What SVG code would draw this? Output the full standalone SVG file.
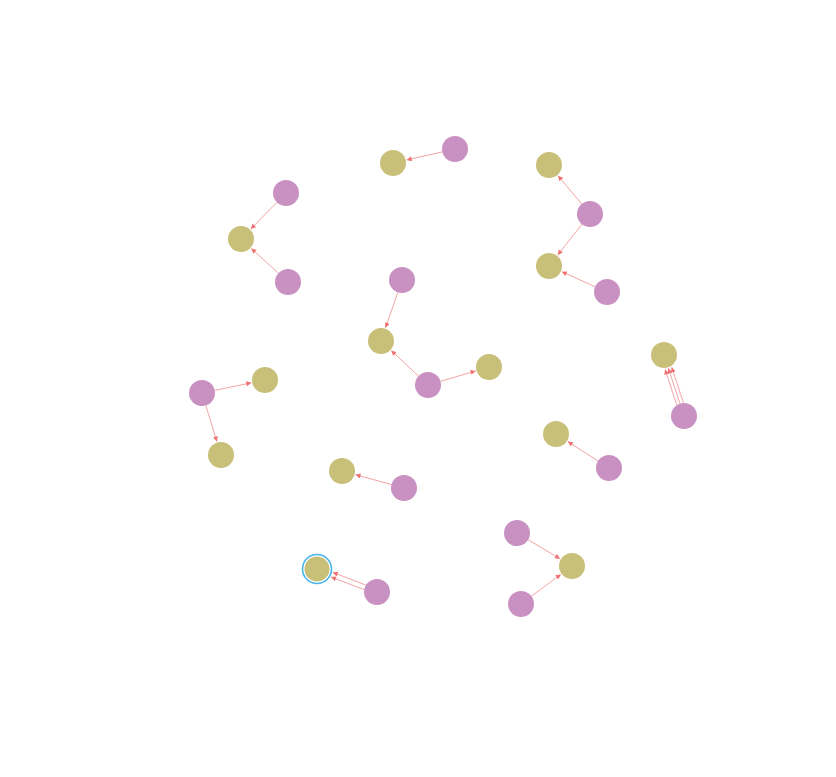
<svg xmlns="http://www.w3.org/2000/svg" width="836" height="777" viewBox="0 0 836 777">
<style>
.p{fill:#C990C2}
.o{fill:#C8BF78}
.e{stroke:#F5A3A3;stroke-width:1;fill:none}
.ring{fill:none;stroke:#46B4EA;stroke-width:1.6}
</style>
<defs>
<marker id="a" viewBox="0 0 10 10" refX="10" refY="5" markerWidth="6" markerHeight="5" markerUnits="userSpaceOnUse" orient="auto">
<path d="M0,0 L10,5 L0,10 z" fill="#F07070"/>
</marker>
</defs>
<rect width="836" height="777" fill="#fff"/>
<g id="edges">
<line class="e" marker-end="url(#a)" x1="442.3" y1="151.9" x2="406.7" y2="159.9"/>
<line class="e" marker-end="url(#a)" x1="276.9" y1="202.3" x2="250.8" y2="229.0"/>
<line class="e" marker-end="url(#a)" x1="278.4" y1="273.2" x2="251.3" y2="248.5"/>
<line class="e" marker-end="url(#a)" x1="581.7" y1="204.0" x2="558.0" y2="175.7"/>
<line class="e" marker-end="url(#a)" x1="582.0" y1="224.2" x2="557.7" y2="255.0"/>
<line class="e" marker-end="url(#a)" x1="595.1" y1="286.7" x2="561.8" y2="271.7"/>
<line class="e" marker-end="url(#a)" x1="397.8" y1="292.3" x2="385.6" y2="327.8"/>
<line class="e" marker-end="url(#a)" x1="418.5" y1="376.1" x2="391.2" y2="350.6"/>
<line class="e" marker-end="url(#a)" x1="440.5" y1="381.3" x2="475.6" y2="371.0"/>
<line class="e" marker-end="url(#a)" x1="214.7" y1="390.4" x2="251.3" y2="382.8"/>
<line class="e" marker-end="url(#a)" x1="205.8" y1="405.4" x2="216.9" y2="441.6"/>
<line class="e" marker-end="url(#a)" x1="391.5" y1="484.6" x2="355.5" y2="474.7"/>
<line class="e" marker-end="url(#a)" x1="598.1" y1="461.0" x2="567.8" y2="441.6"/>
<line class="e" marker-end="url(#a)" x1="676.7" y1="404.8" x2="665.1" y2="369.4"/>
<line class="e" marker-end="url(#a)" x1="680.0" y1="403.7" x2="668.4" y2="368.3"/>
<line class="e" marker-end="url(#a)" x1="683.3" y1="402.6" x2="671.7" y2="367.2"/>
<line class="e" marker-end="url(#a)" x1="528.2" y1="539.7" x2="560.0" y2="558.8"/>
<line class="e" marker-end="url(#a)" x1="531.4" y1="596.2" x2="560.8" y2="574.4"/>
<line class="e" marker-end="url(#a)" x1="365.8" y1="585.0" x2="332.8" y2="572.4"/>
<line class="e" marker-end="url(#a)" x1="364.0" y1="589.6" x2="331.0" y2="577.0"/>
</g>
<g id="n1"><circle class="p" cx="455" cy="149" r="13"/></g>
<g id="n2"><circle class="p" cx="286" cy="193" r="13"/></g>
<g id="n3"><circle class="p" cx="288" cy="282" r="13"/></g>
<g id="n4"><circle class="p" cx="590" cy="214" r="13"/></g>
<g id="n5"><circle class="p" cx="607" cy="292" r="13"/></g>
<g id="n6"><circle class="p" cx="402" cy="280" r="13"/></g>
<g id="n7"><circle class="p" cx="428" cy="385" r="13"/></g>
<g id="n8"><circle class="p" cx="202" cy="393" r="13"/></g>
<g id="n9"><circle class="p" cx="404" cy="488" r="13"/></g>
<g id="n10"><circle class="p" cx="609" cy="468" r="13"/></g>
<g id="n11"><circle class="p" cx="684" cy="416" r="13"/></g>
<g id="n12"><circle class="p" cx="517" cy="533" r="13"/></g>
<g id="n13"><circle class="p" cx="521" cy="604" r="13"/></g>
<g id="n14"><circle class="p" cx="377" cy="592" r="13"/></g>
<g id="n15"><circle class="o" cx="393" cy="163" r="13"/></g>
<g id="n16"><circle class="o" cx="241" cy="239" r="13"/></g>
<g id="n17"><circle class="o" cx="549" cy="165" r="13"/></g>
<g id="n18"><circle class="o" cx="549" cy="266" r="13"/></g>
<g id="n19"><circle class="o" cx="381" cy="341" r="13"/></g>
<g id="n20"><circle class="o" cx="489" cy="367" r="13"/></g>
<g id="n21"><circle class="o" cx="265" cy="380" r="13"/></g>
<g id="n22"><circle class="o" cx="221" cy="455" r="13"/></g>
<g id="n23"><circle class="o" cx="342" cy="471" r="13"/></g>
<g id="n24"><circle class="o" cx="556" cy="434" r="13"/></g>
<g id="n25"><circle class="o" cx="664" cy="355" r="13"/></g>
<g id="n26"><circle class="o" cx="572" cy="566" r="13"/></g>
<g id="n27"><circle class="ring" cx="317" cy="569" r="14.5"/><circle class="o" cx="317" cy="569" r="12.5"/></g>
</svg>
